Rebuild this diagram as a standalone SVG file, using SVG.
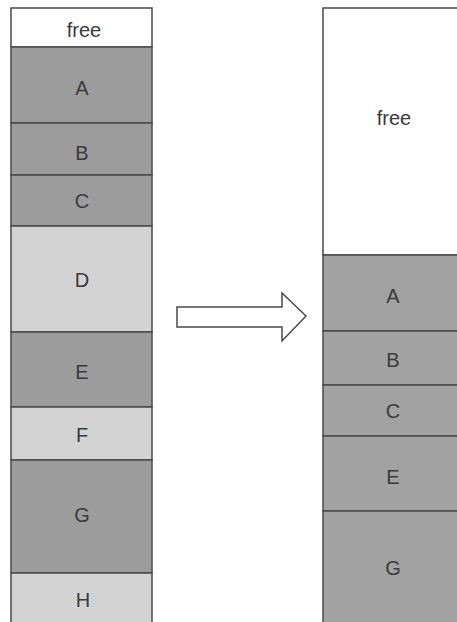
<svg xmlns="http://www.w3.org/2000/svg" width="457" height="622" viewBox="0 0 457 622">
<style>
.free{fill:#ffffff}
.dark{fill:#9c9c9c}
.darkr{fill:#a2a2a2}
.light{fill:#d3d3d3}
rect{stroke:#4a4a4a;stroke-width:1.5}
text{font-family:"Liberation Sans",Arial,sans-serif;font-size:20px;fill:#3a3a3a;text-anchor:middle;dominant-baseline:central}
</style>
<g id="left">
<g id="l-free"><rect class="free" x="11" y="8" width="141" height="39"/><text x="84" y="30">free</text></g>
<g id="l-A"><rect class="dark" x="11" y="47" width="141" height="76"/><text x="82" y="88">A</text></g>
<g id="l-B"><rect class="dark" x="11" y="123" width="141" height="52"/><text x="82" y="153">B</text></g>
<g id="l-C"><rect class="dark" x="11" y="175" width="141" height="51"/><text x="82" y="201">C</text></g>
<g id="l-D"><rect class="light" x="11" y="226" width="141" height="106"/><text x="82" y="280">D</text></g>
<g id="l-E"><rect class="dark" x="11" y="332" width="141" height="75"/><text x="82" y="372">E</text></g>
<g id="l-F"><rect class="light" x="11" y="407" width="141" height="53"/><text x="82" y="435">F</text></g>
<g id="l-G"><rect class="dark" x="11" y="460" width="141" height="113"/><text x="82" y="515">G</text></g>
<g id="l-H"><rect class="light" x="11" y="573" width="141" height="60"/><text x="83" y="600">H</text></g>
</g>
<g id="connectors">
<polygon points="177,307 282,307 282,293 306,316 282,341 282,327 177,327" fill="#ffffff" stroke="#4a4a4a" stroke-width="1.5"/>
</g>
<g id="right">
<g id="r-free"><rect class="free" x="323" y="8" width="140" height="247"/><text x="394" y="118">free</text></g>
<g id="r-A"><rect class="darkr" x="323" y="255" width="140" height="76"/><text x="393" y="296">A</text></g>
<g id="r-B"><rect class="darkr" x="323" y="331" width="140" height="54"/><text x="393" y="360">B</text></g>
<g id="r-C"><rect class="darkr" x="323" y="385" width="140" height="51"/><text x="393" y="411">C</text></g>
<g id="r-E"><rect class="darkr" x="323" y="436" width="140" height="75"/><text x="393" y="477">E</text></g>
<g id="r-G"><rect class="darkr" x="323" y="511" width="140" height="122"/><text x="393" y="568">G</text></g>
</g>
</svg>
